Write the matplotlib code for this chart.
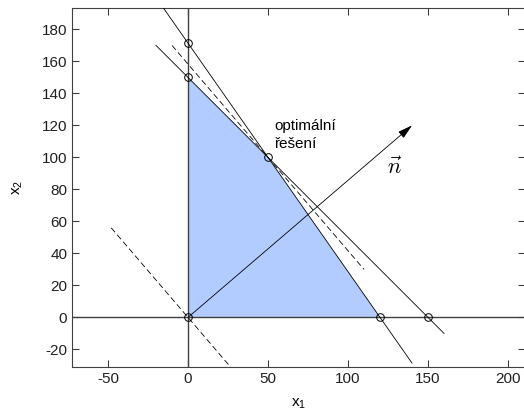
import numpy as np
import matplotlib.pyplot as plt

plt.rcParams['font.family'] = ['Liberation Sans', 'DejaVu Sans']
plt.rcParams['mathtext.fontset'] = 'cm'
plt.rcParams['axes.unicode_minus'] = False

# feasible region vertices
region_x = [0, 0, 50, 120]
region_y = [0, 150, 100, 0]

# constraints a*x1 + b*x2 = rhs, drawn between x_from and x_to
con_a = [1, 10]
con_b = [1, 7]
con_rhs = [150, 1200]
con_from = [-20, -20]
con_to = [160, 140]

# objective normal and optimum
c = [7, 6]
n_scale = 20
opt = [50, 100]

# marked points (intercepts, origin, optimum)
pts_x = [0, 0, 0, 150, 120, 50]
pts_y = [0, 150, 1200 / 7, 0, 0, 100]

fig = plt.figure(figsize=(5.24, 4.18), dpi=100)
ax = fig.add_axes([72 / 524, 51 / 418, 453 / 524, 359 / 418])

ax.fill(region_x, region_y, color=(0.7, 0.8, 1.0), lw=0, zorder=1)
ax.axhline(0, color='#404040', lw=1, zorder=2)
ax.axvline(0, color='#404040', lw=1, zorder=2)

for a, b, r, x0, x1 in zip(con_a, con_b, con_rhs, con_from, con_to):
    xs = np.array([x0, x1])
    ax.plot(xs, (r - a * xs) / b, color='k', lw=0.6, zorder=3)

# level lines of objective through origin and optimum
slope = -c[0] / c[1]
xs = np.array([-48, 48])
ax.plot(xs, slope * xs, color='k', lw=0.6, ls=(0, (7, 4)), zorder=3)
xs = np.array([opt[0] - 60, opt[0] + 60])
ax.plot(xs, opt[1] + slope * (xs - opt[0]), color='k', lw=0.6, ls=(0, (7, 4)), zorder=3)

ax.plot(pts_x, pts_y, 'o', mfc='none', mec='k', ms=5.5, mew=0.7, zorder=4)

ax.annotate('', xy=(c[0] * n_scale, c[1] * n_scale), xytext=(0, 0),
            arrowprops=dict(arrowstyle='-|>,head_length=0.9,head_width=0.25',
                            color='k', lw=0.6, shrinkA=0, shrinkB=0), zorder=5)
ax.text(129, 93, r'$\vec{n}$', fontsize=16, ha='center', va='center')
ax.text(54, 114, 'optimální\nřešení', fontsize=11, ha='left', va='center',
        linespacing=1.35)

ax.set_xlim(-72.5, 210.6)
ax.set_ylim(-31, 193.4)
ax.set_xticks([-50, 0, 50, 100, 150, 200])
ax.set_yticks(np.arange(-20, 181, 20))
ax.tick_params(direction='in', length=5, top=True, right=True, labelsize=11,
               color='#404040', labelcolor='#202020')
for s in ax.spines.values():
    s.set_color('#404040')
ax.set_xlabel(r'$\mathregular{x_1}$', fontsize=11, labelpad=8)
ax.set_ylabel(r'$\mathregular{x_2}$', fontsize=11, labelpad=12)

fig.savefig('out.png', dpi=100)
